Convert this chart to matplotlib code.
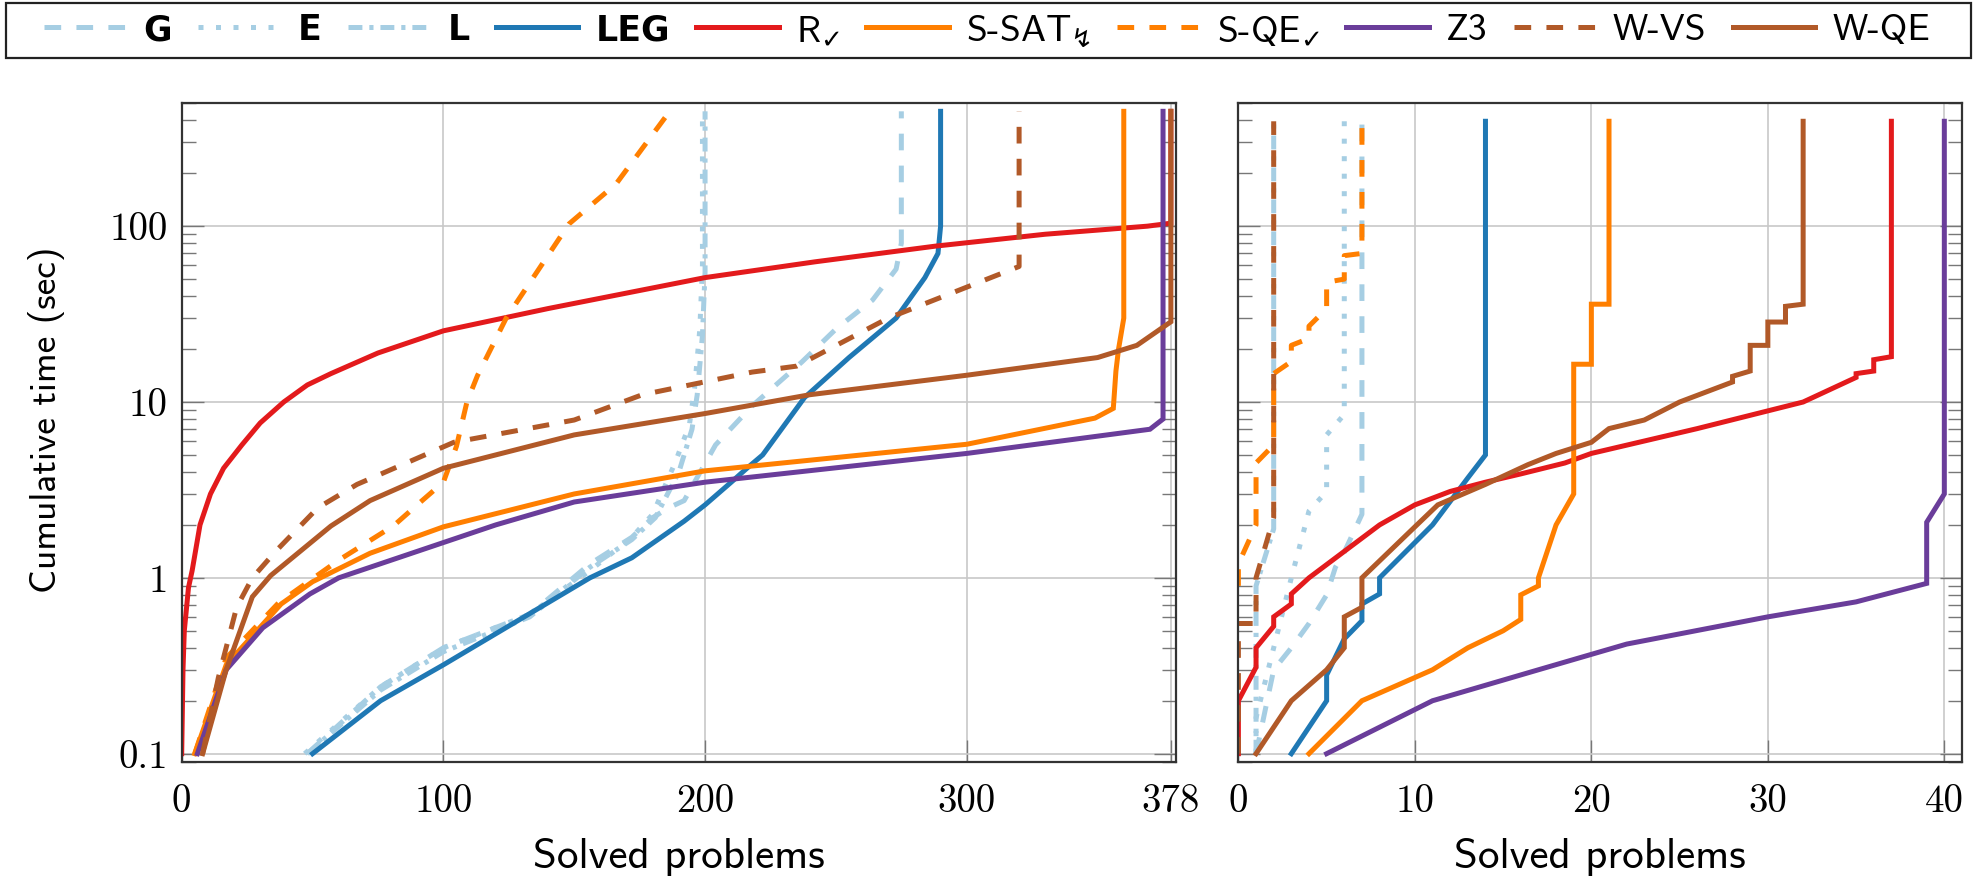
import numpy as np
import matplotlib
matplotlib.use('Agg')
import matplotlib.pyplot as plt
from matplotlib.patches import Rectangle
from matplotlib.ticker import FixedLocator, FixedFormatter, LogLocator, NullFormatter

# ── Data: cumulative time (sec) vs. number of solved problems ───────────────
# left panel: whole benchmark (378 problems)
G_x   = [48, 76, 100, 133, 156, 172, 180, 186, 192, 204, 218, 237, 250, 264, 273, 275, 275]
G_y   = [0.1, 0.24, 0.40, 0.62, 1.2, 1.7, 2.2, 2.5, 2.75, 5.7, 9.5, 16.9, 26, 38, 57, 80, 450]
E_x   = [47, 76, 100, 133, 156, 172, 180, 188.5, 194, 196, 198, 199, 199]
E_y   = [0.1, 0.24, 0.40, 0.62, 1.1, 1.7, 2.3, 4.5, 7.4, 12, 26, 60, 450]
L_x   = [48, 76, 100, 133, 156, 172, 181, 190, 195, 197, 199, 200, 200]
L_y   = [0.1, 0.23, 0.38, 0.60, 1.15, 1.65, 2.2, 4.0, 7.0, 11, 24, 55, 450]
LEG_x = [50, 76, 100, 156, 172, 192, 200, 210, 216, 222, 238, 255, 273, 284, 289, 290, 290]
LEG_y = [0.1, 0.2, 0.32, 1.0, 1.3, 2.1, 2.6, 3.5, 4.2, 5.0, 10.6, 17.9, 30, 51, 70, 100, 450]
R_x   = [0, 0.5, 1, 2.6, 4, 7, 11, 16, 23, 30, 39, 48, 57, 75, 100, 140, 200, 242, 288, 330, 369, 378, 378]
R_y   = [0.1, 0.3, 0.5, 0.88, 1.1, 2.0, 3.0, 4.2, 5.7, 7.6, 10, 12.5, 14.5, 19, 25.4, 34, 51, 62.7, 77, 90, 100, 104, 450]
SSAT_x = [5, 17, 38, 50, 72, 100, 150, 200, 300, 349, 356, 357, 358, 360, 360]
SSAT_y = [0.1, 0.32, 0.71, 0.95, 1.38, 1.95, 3.0, 4.06, 5.75, 8.1, 9.2, 15, 20, 30, 450]
SQE_x = [5, 17, 37, 60, 81, 90, 100, 105, 109, 113, 124, 148, 166, 186]
SQE_y = [0.1, 0.35, 0.72, 1.26, 1.98, 2.6, 3.5, 5.6, 10, 14.1, 30, 103, 174, 440]
Z3_x  = [6, 17, 31, 49, 60, 120, 150, 200, 300, 370, 375, 375]
Z3_y  = [0.1, 0.3, 0.52, 0.81, 1.0, 2.0, 2.7, 3.5, 5.1, 7.0, 8.0, 450]
WVS_x = [8, 14, 21, 27, 36, 52, 67, 104, 150, 176, 218, 235, 270, 320, 320]
WVS_y = [0.1, 0.27, 0.68, 1.0, 1.42, 2.5, 3.4, 5.9, 7.9, 11, 14.8, 16, 30, 59, 450]
WQE_x = [8, 17, 27, 34, 57, 72, 100, 150, 200, 240, 300, 350, 365, 378, 378]
WQE_y = [0.1, 0.3, 0.78, 1.03, 1.97, 2.75, 4.2, 6.5, 8.6, 11, 14.2, 17.9, 21, 28.6, 450]

# right panel: 40-problem subset
rG_x   = [1, 2, 3, 4, 5, 5.5, 6, 7, 7]
rG_y   = [0.1, 0.3, 0.4, 0.55, 0.8, 1.15, 1.4, 2.3, 395]
rE_x   = [1, 1, 2, 3, 4, 5, 5, 6, 6]
rE_y   = [0.1, 0.16, 0.4, 1.0, 2.4, 3.1, 6.5, 8.5, 395]
rL_x   = [1, 1, 1, 2, 2]
rL_y   = [0.1, 0.4, 0.9, 1.9, 395]
rLEG_x = [3, 5, 5, 6, 7, 7, 8, 8, 11, 13, 14, 14]
rLEG_y = [0.1, 0.2, 0.28, 0.45, 0.57, 0.71, 0.81, 1.0, 2.0, 3.7, 5.0, 395]
rR_x   = [0, 0, 1, 1, 2, 2, 3, 3, 4, 8, 10, 12, 14, 16, 18.5, 20, 26, 32, 35, 35, 36, 36, 37, 37]
rR_y   = [0.1, 0.2, 0.31, 0.40, 0.53, 0.6, 0.71, 0.81, 1.0, 2.0, 2.6, 3.1, 3.5, 3.9, 4.5, 5.1, 7.06, 10, 13.8, 14.5, 15, 17.4, 18.1, 395]
rSSAT_x = [4, 7, 11, 13, 15, 16, 16, 17, 17, 18, 19, 19, 20, 20, 21, 21]
rSSAT_y = [0.1, 0.2, 0.3, 0.4, 0.5, 0.58, 0.8, 0.9, 1.0, 2.0, 3.0, 16.4, 16.4, 36, 36, 395]
rSQE_x = [0, 0, 1, 1, 2, 2, 3, 3, 4, 4, 5, 5, 6, 6, 7, 7]
rSQE_y = [0.9, 1.2, 2.0, 4.5, 5.7, 14.5, 17, 21, 23, 27, 34, 48, 50, 68, 70, 395]
rZ3_x  = [5, 11, 17, 22, 30, 35, 39, 39, 40, 40]
rZ3_y  = [0.1, 0.2, 0.3, 0.42, 0.6, 0.73, 0.93, 2.07, 3.0, 395]
rWVS_x = [0, 0, 1, 1, 2, 2]
rWVS_y = [0.1, 0.55, 0.55, 1.0, 2.2, 395]
rWQE_x = [1, 3, 5, 6, 6, 7, 7, 10, 11.3, 14, 16.4, 18, 20, 21, 23, 25, 28, 28, 29, 29, 30, 30, 31, 31, 32, 32]
rWQE_y = [0.1, 0.2, 0.3, 0.4, 0.6, 0.68, 1.0, 1.95, 2.6, 3.4, 4.4, 5.1, 5.9, 7.06, 7.9, 10, 13, 14, 15, 21, 21, 28.5, 28.5, 35, 36, 395]

labels = ['G', 'E', 'L', 'LEG', r'R$_{\checkmark}$', 'S-SAT$_{↯}$', r'S-QE$_{\checkmark}$',
          'Z3', 'W-VS', 'W-QE']
bold_labels = ['G', 'E', 'L', 'LEG']
left_xticks = [0, 100, 200, 300, 378]
right_xticks = [0, 10, 20, 30, 40]
yticks = [0.1, 1, 10, 100]
ytick_labels = ['0.1', '1', '10', '100']

# ── Styles ───────────────────────────────────────────────────────────────────
c_light, c_blue = '#a6cee3', '#1f78b4'
c_red, c_orange = '#e31a1c', '#ff7f00'
c_purple, c_brown = '#6a3d9a', '#b15928'
DASHED = (0, (12, 11))
DOTTED = (0, (3.6, 9))
DASHDOT = (0, (10, 5, 3, 5))
styles = [
    (c_light, DASHED), (c_light, DOTTED), (c_light, DASHDOT), (c_blue, '-'),
    (c_red, '-'), (c_orange, '-'), (c_orange, DASHED), (c_purple, '-'),
    (c_brown, DASHED), (c_brown, '-'),
]
left_series = [(G_x, G_y), (E_x, E_y), (L_x, L_y), (LEG_x, LEG_y), (R_x, R_y),
               (SSAT_x, SSAT_y), (SQE_x, SQE_y), (Z3_x, Z3_y), (WVS_x, WVS_y), (WQE_x, WQE_y)]
right_series = [(rG_x, rG_y), (rE_x, rE_y), (rL_x, rL_y), (rLEG_x, rLEG_y), (rR_x, rR_y),
                (rSSAT_x, rSSAT_y), (rSQE_x, rSQE_y), (rZ3_x, rZ3_y), (rWVS_x, rWVS_y), (rWQE_x, rWQE_y)]

plt.rcParams['font.family'] = ['cmss10', 'DejaVu Sans']
plt.rcParams['mathtext.fontset'] = 'dejavusans'
plt.rcParams['axes.unicode_minus'] = False
plt.rcParams['lines.scale_dashes'] = False

W, H = 1977, 885
LW = 3.6
fig = plt.figure(figsize=(W / 100, H / 100), dpi=100)
ax1 = fig.add_axes([0.0919, 0.1393, 0.503, 0.744])
ax2 = fig.add_axes([0.6264, 0.1393, 0.366, 0.744])

handles = []
for (x, y), (col, ls), lab in zip(left_series, styles, labels):
    h, = ax1.plot(x, y, color=col, linestyle=ls, lw=LW, label=lab, solid_joinstyle='miter')
    handles.append(h)
for (x, y), (col, ls) in zip(right_series, styles):
    ax2.plot(x, y, color=col, linestyle=ls, lw=LW, solid_joinstyle='miter')

for ax, xt, xmax in [(ax1, left_xticks, 380), (ax2, right_xticks, 41)]:
    ax.set_yscale('log')
    ax.set_ylim(0.09, 500)
    ax.set_xlim(0, xmax)
    ax.set_xticks(xt)
    ax.yaxis.set_major_locator(FixedLocator(yticks))
    ax.yaxis.set_minor_locator(LogLocator(base=10, subs=np.arange(2, 10)))
    ax.yaxis.set_minor_formatter(NullFormatter())
    ax.grid(True, which='major', color='#c8c8c8', lw=1.2)
    ax.set_axisbelow(True)
    ax.tick_params(which='major', direction='in', length=16, width=1.0, color='#777777',
                   labelsize=28, labelfontfamily='cmr10', right=True, top=False, pad=10)
    ax.tick_params(axis='x', which='major', pad=16)
    ax.tick_params(which='minor', direction='in', length=10, width=1.0, color='#777777',
                   right=True)
    for sp in ax.spines.values():
        sp.set_linewidth(1.6)
        sp.set_color('#333333')
    ax.set_xlabel('Solved problems', fontsize=31, labelpad=13)

ax1.yaxis.set_major_formatter(FixedFormatter(ytick_labels))
ax1.set_ylabel('Cumulative time (sec)', fontsize=27)
ax1.yaxis.set_label_coords(-0.117, 0.52)
ax2.yaxis.set_major_formatter(NullFormatter())

# ── Legend: one row across the top, frame drawn over the full width ─────────
fig.patches.append(Rectangle((6 / W, 1 - 58 / H), 1965 / W, 55 / H, transform=fig.transFigure,
                             fill=False, edgecolor='#222222', lw=1.6))
LEG_FS = 27


def make_legend(colsp):
    lg = fig.legend(handles, labels, loc='center', ncol=10, frameon=False,
                    bbox_to_anchor=(987 / W, 1 - 31 / H), fontsize=LEG_FS,
                    handlelength=2.2, handletextpad=0.45, borderpad=0.0,
                    columnspacing=colsp)
    for t in lg.get_texts():
        if t.get_text() in bold_labels:
            t.set_family('DejaVu Sans')
            t.set_weight('bold')
            t.set_fontsize(25)
    return lg


cs = 0.8
leg = make_legend(cs)
fig.canvas.draw()
width_px = leg.get_window_extent().width
extra = (1886 - width_px) / 9 / (LEG_FS * 100 / 72)
leg.remove()
leg = make_legend(cs + extra)

fig.savefig('out.png', dpi=100)
